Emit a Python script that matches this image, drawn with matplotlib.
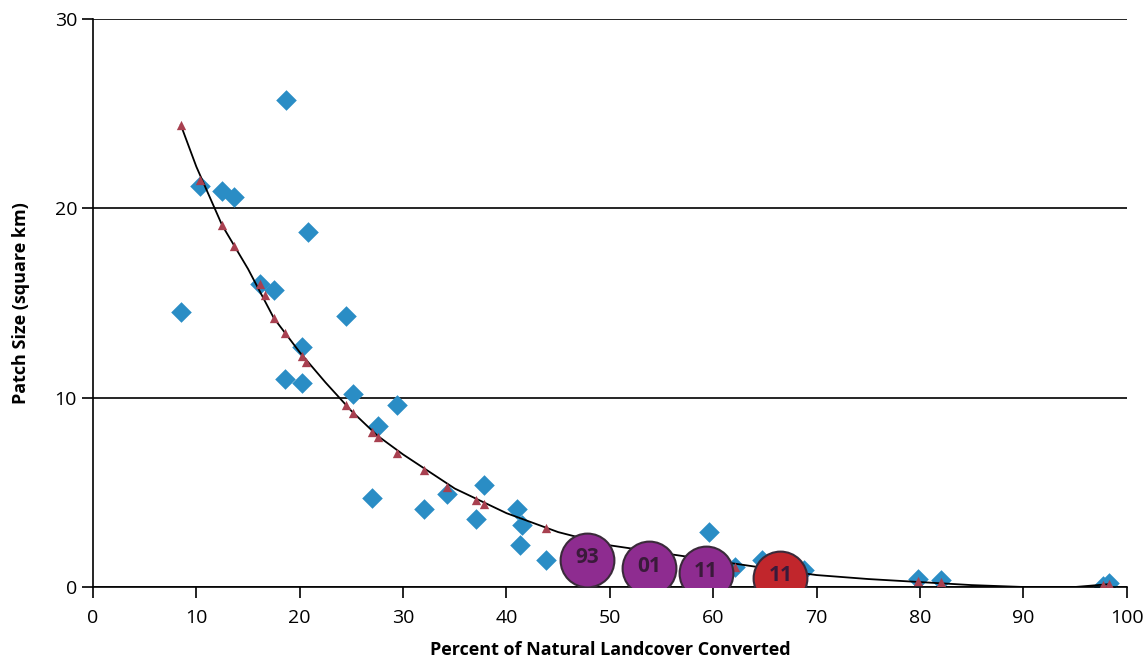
import matplotlib.pyplot as plt

# observed patches (blue diamonds)
obs_x = [8.5, 10.4, 12.5, 13.6, 18.65, 20.8, 16.2, 17.5, 24.5, 20.2, 18.55, 20.2,
         25.2, 29.4, 27.6, 27.0, 32.0, 34.2, 37.1, 37.8, 41.0, 41.5, 41.3, 43.8,
         59.6, 62.1, 64.7, 68.75, 79.8, 82.0, 97.7, 98.3]
obs_y = [14.5, 21.2, 20.9, 20.6, 25.7, 18.75, 16.0, 15.7, 14.3, 12.7, 11.0, 10.8,
         10.2, 9.6, 8.5, 4.7, 4.1, 4.9, 3.6, 5.4, 4.1, 3.3, 2.2, 1.4,
         2.9, 1.05, 1.4, 0.9, 0.42, 0.37, 0.05, 0.2]

# predicted values (red triangles)
pred_x = [8.5, 10.4, 12.5, 13.6, 16.2, 16.6, 17.5, 18.55, 20.2, 20.6, 24.5, 25.2,
          27.0, 27.6, 29.4, 32.0, 34.2, 37.1, 37.8, 43.8, 62.1, 79.8, 82.0, 97.7, 98.3]
pred_y = [24.4, 21.5, 19.1, 18.0, 16.0, 15.4, 14.2, 13.4, 12.2, 11.9, 9.6, 9.2,
          8.2, 7.9, 7.1, 6.2, 5.3, 4.6, 4.4, 3.1, 1.05, 0.3, 0.25, 0.1, 0.15]

# trend line
trend_x = [8.5, 10, 12.5, 15, 17.5, 20, 22.5, 25, 27.5, 30, 35, 40, 45, 50, 55,
           60, 65, 70, 75, 80, 85, 90, 95, 98.3]
trend_y = [24.4, 22.2, 19.1, 16.8, 14.2, 12.4, 10.8, 9.3, 8.0, 7.0, 5.2, 3.9, 2.9,
           2.2, 1.8, 1.4, 1.0, 0.63, 0.42, 0.26, 0.1, 0.0, 0.0, 0.15]

# highlighted years
yr_x = [47.8, 53.8, 59.3, 66.5]
yr_y = [1.45, 1.0, 0.74, 0.5]
yr_lab = ['93', '01', '11', '11']
yr_col = ['#8e2c90', '#8e2c90', '#8e2c90', '#c1262c']

plt.rcParams['font.family'] = ['Open Sans', 'DejaVu Sans']

fig = plt.figure(figsize=(11.45, 6.72), dpi=100)
ax = fig.add_axes([0.0812, 0.1265, 0.9028, 0.8452])

ax.plot(trend_x, trend_y, color='black', lw=1.3, zorder=3)
ax.scatter(obs_x, obs_y, marker='D', s=110, color='#2a8dc5', zorder=2, linewidths=0)
ax.scatter(pred_x, pred_y, marker='^', s=45, color='#a84050', zorder=4, linewidths=0)

for x, y, t, c in zip(yr_x, yr_y, yr_lab, yr_col):
    ax.scatter([x], [y], s=1500, color=c, edgecolors='#3a2a3a', linewidths=1.5, zorder=5)
    ax.text(x, y + 0.1, t, ha='center', va='center', fontsize=15, fontweight='bold',
            color='#3a1a3a', zorder=6)

ax.set_xlim(0, 100)
ax.set_ylim(0, 30)
ax.set_xticks(range(0, 101, 10))
ax.set_yticks([0, 10, 20, 30])
ax.grid(axis='y', color='black', lw=1.2)
ax.set_axisbelow(True)
for s in ['top', 'right']:
    ax.spines[s].set_visible(False)
ax.spines['left'].set_linewidth(1.2)
ax.spines['bottom'].set_linewidth(1.2)
ax.tick_params(axis='both', labelsize=14, length=8, width=1.2, direction='out')
ax.tick_params(axis='x', pad=8)

ax.set_xlabel('Percent of Natural Landcover Converted', fontsize=13, fontweight='bold', labelpad=10)
ax.set_ylabel('Patch Size (square km)', fontsize=13, fontweight='bold', labelpad=18)

fig.savefig('out.png', dpi=100)
